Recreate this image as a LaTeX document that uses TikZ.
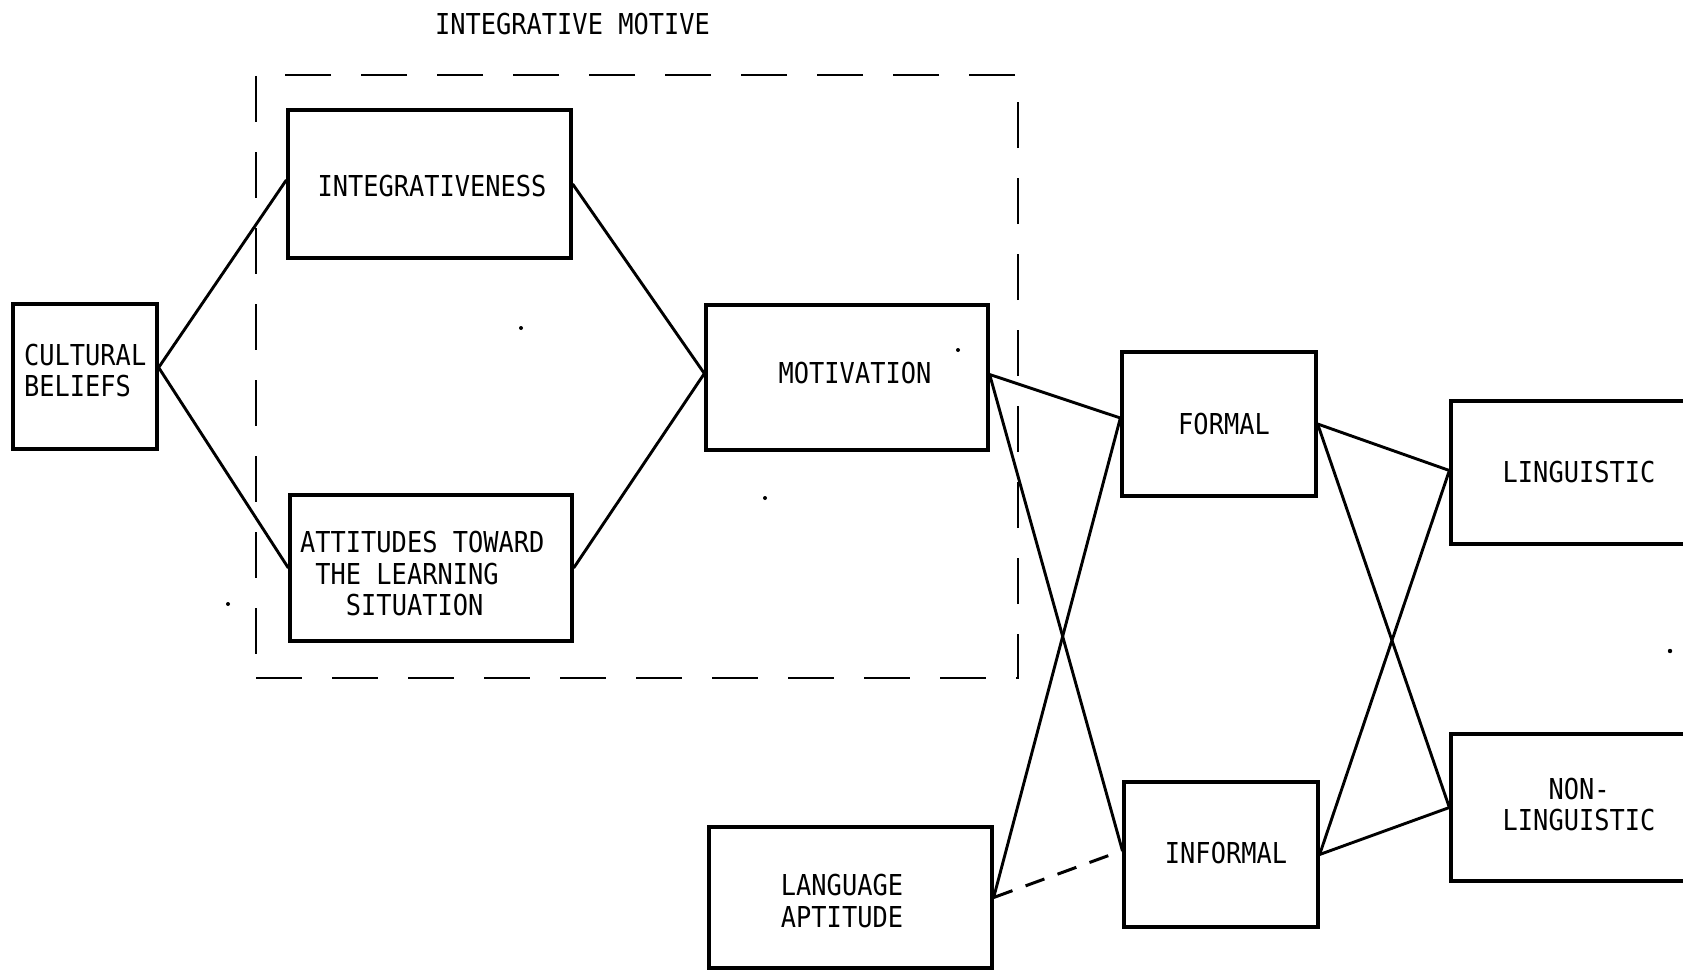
\documentclass[tikz,border=0pt]{standalone}
\usepackage{fontspec}
\newfontfamily\tw[FakeStretch=0.88]{DejaVu Sans Mono}
\begin{document}
\begin{tikzpicture}[x=1pt,y=-1pt,
  box/.style={draw, line width=3.3pt, inner sep=0pt},
  lbl/.style={inner sep=0pt, font=\tw\fontsize{28.8}{31.5}\selectfont},
  conn/.style={line width=2.9pt},
  dashconn/.style={line width=3pt, dash pattern=on 20pt off 14pt},
  frame/.style={draw, line width=2.7pt, dash pattern=on 46pt off 30pt, inner sep=0pt}]
\clip (0,0) rectangle (1683,971);
\fill[white] (0,0) rectangle (1683,971);
% dashed integrative motive frame
\node[frame, minimum width=762pt, minimum height=603pt] (motive) at (637,376.5) {};
\node[lbl] (motivetitle) at (572.5,24) {INTEGRATIVE MOTIVE};
% boxes
\node[box, minimum width=144pt, minimum height=145pt] (cult) at (85,376.5) {};
\node[box, minimum width=283pt, minimum height=148pt] (integ) at (429.5,184) {};
\node[box, minimum width=282pt, minimum height=146pt] (att) at (431,568) {};
\node[box, minimum width=282pt, minimum height=145pt] (motiv) at (847,377.5) {};
\node[box, minimum width=194pt, minimum height=144pt] (formal) at (1219,424) {};
\node[box, minimum width=194pt, minimum height=145pt] (informal) at (1221,854.5) {};
\node[box, minimum width=282pt, minimum height=143pt] (ling) at (1592,472.5) {};
\node[box, minimum width=282pt, minimum height=147pt] (nonling) at (1592,807.5) {};
\node[box, minimum width=283pt, minimum height=141pt] (apt) at (850.5,897.5) {};
% labels
\node[lbl, anchor=west, align=left] (cultT) at (24,370.5) {CULTURAL\\BELIEFS};
\node[lbl] (integT) at (432,186) {INTEGRATIVENESS};
\node[lbl, anchor=west, align=left] (attT) at (300,574) {ATTITUDES TOWARD\\\phantom{T}THE LEARNING\\\phantom{TTT}SITUATION};
\node[lbl] (motivT) at (855,373) {MOTIVATION};
\node[lbl] (formalT) at (1224,424) {FORMAL};
\node[lbl] (informalT) at (1226,853) {INFORMAL};
\node[lbl] (lingT) at (1579,472) {LINGUISTIC};
\node[lbl, align=center] (nonlingT) at (1579,804.5) {NON-\\LINGUISTIC};
\node[lbl, align=left] (aptT) at (842,901) {LANGUAGE\\APTITUDE};
% connectors
\draw[conn] ([yshift=9pt]cult.east) -- ([yshift=4pt]integ.west);
\draw[conn] ([yshift=9pt]cult.east) -- (att.west);
\draw[conn] (integ.east) -- ([yshift=4pt]motiv.west);
\draw[conn] (att.east) -- ([yshift=4pt]motiv.west);
\draw[conn] ([yshift=3pt]motiv.east) -- ([yshift=6pt]formal.west);
\draw[conn] ([yshift=3pt]motiv.east) -- ([yshift=4pt]informal.west);
\draw[conn] (apt.east) -- ([yshift=6pt]formal.west);
\draw[dashconn] (apt.east) -- ([yshift=4pt]informal.west);
\draw[conn] (formal.east) -- ([yshift=2pt]ling.west);
\draw[conn] (formal.east) -- (nonling.west);
\draw[conn] (informal.east) -- ([yshift=2pt]ling.west);
\draw[conn] (informal.east) -- (nonling.west);
% specks
\fill (521,328) circle (2pt);
\fill (765,498) circle (2pt);
\fill (228,604) circle (2pt);
\fill (958,350) circle (2pt);
\fill (1670,651) circle (2.2pt);
\end{tikzpicture}
\end{document}
